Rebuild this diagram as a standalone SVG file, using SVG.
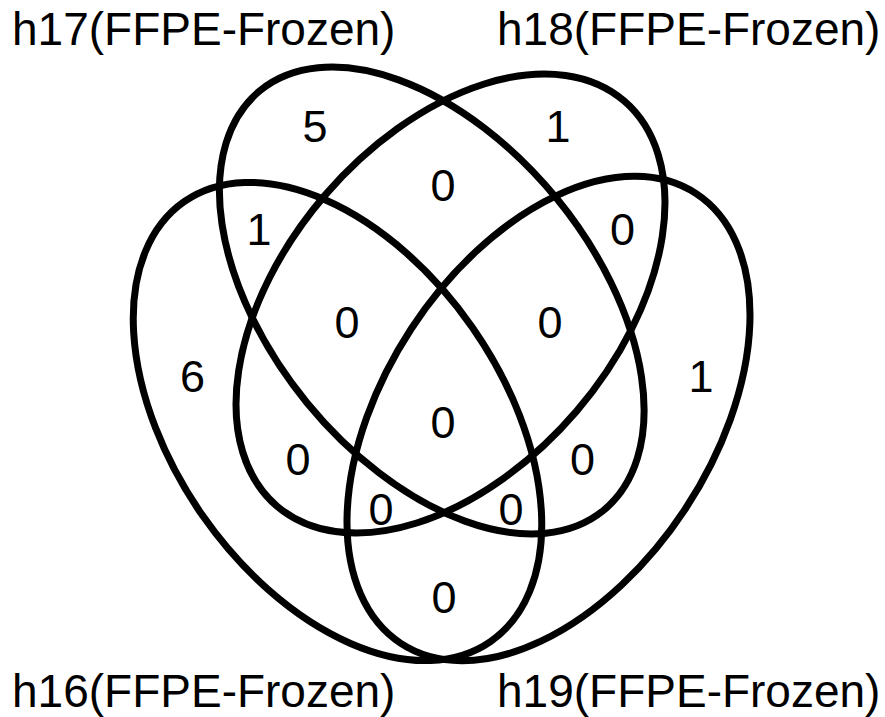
<svg xmlns="http://www.w3.org/2000/svg" width="885" height="717" viewBox="0 0 885 717">
  <style>
    .set { fill: none; stroke: #000; stroke-width: 7; }
    .count { font-family: "Liberation Sans", Arial, sans-serif; font-size: 45px; text-anchor: middle; fill: #000; }
    .name { font-family: "Liberation Sans", Arial, sans-serif; font-size: 46px; fill: #000; }
  </style>
  <rect width="885" height="717" fill="#fff"/>

  <g id="set-h16">
    <ellipse class="set" cx="337.5" cy="421.5" rx="268" ry="164.5" transform="rotate(55.1 337.5 421.5)"/>
    <text class="name" x="12" y="707">h16(FFPE-Frozen)</text>
  </g>
  <g id="set-h17">
    <ellipse class="set" cx="431.75" cy="300.5" rx="271.2" ry="161.3" transform="rotate(50.7 431.75 300.5)"/>
    <text class="name" x="12" y="45">h17(FFPE-Frozen)</text>
  </g>
  <g id="set-h18">
    <ellipse class="set" cx="450.5" cy="303.5" rx="266.8" ry="165.8" transform="rotate(-49.4 450.5 303.5)"/>
    <text class="name" x="497" y="45">h18(FFPE-Frozen)</text>
  </g>
  <g id="set-h19">
    <ellipse class="set" cx="548.5" cy="418.5" rx="269" ry="164" transform="rotate(-56.7 548.5 418.5)"/>
    <text class="name" x="497" y="707">h19(FFPE-Frozen)</text>
  </g>

  <g id="counts">
    <text class="count" x="315" y="142">5</text>
    <text class="count" x="558" y="142">1</text>
    <text class="count" x="443" y="201">0</text>
    <text class="count" x="259" y="245">1</text>
    <text class="count" x="622.5" y="245">0</text>
    <text class="count" x="192.5" y="392">6</text>
    <text class="count" x="701" y="392">1</text>
    <text class="count" x="347" y="338">0</text>
    <text class="count" x="550" y="338">0</text>
    <text class="count" x="443" y="438">0</text>
    <text class="count" x="298" y="475">0</text>
    <text class="count" x="582.5" y="475">0</text>
    <text class="count" x="381" y="525">0</text>
    <text class="count" x="511" y="525">0</text>
    <text class="count" x="444" y="613">0</text>
  </g>
</svg>
